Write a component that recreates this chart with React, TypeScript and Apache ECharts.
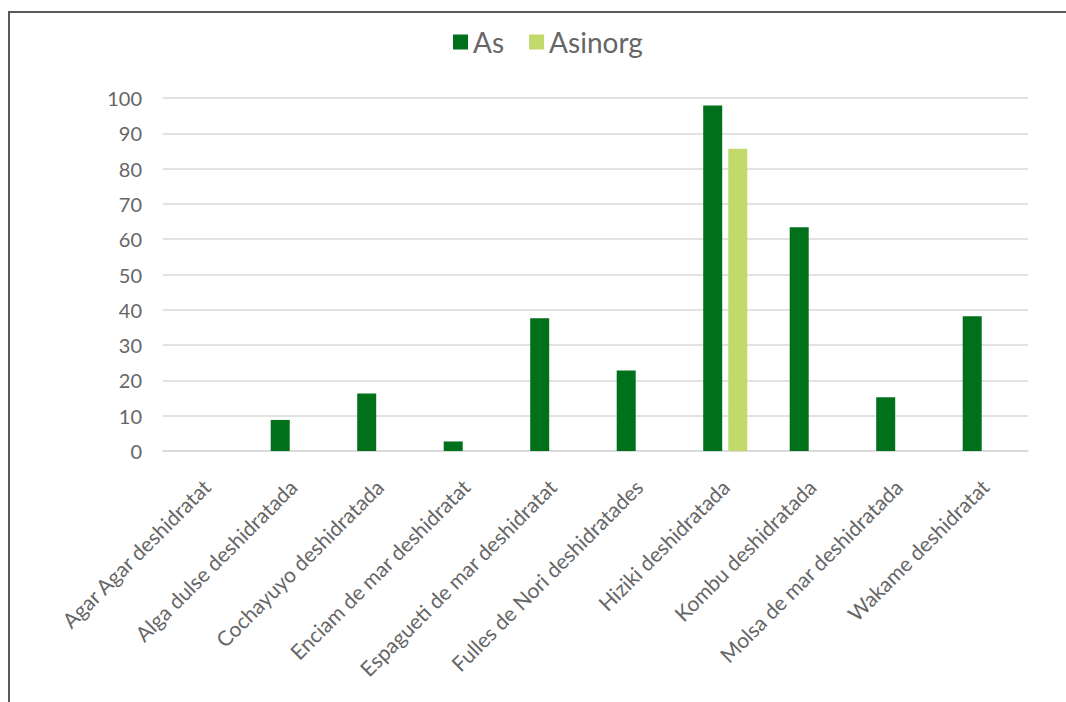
import React, { useEffect, useRef } from "react";
import * as echarts from "echarts";

const categories = [
  "Agar Agar deshidratat",
  "Alga dulse deshidratada",
  "Cochayuyo deshidratada",
  "Enciam de mar deshidratat",
  "Espagueti de mar deshidratat",
  "Fulles de Nori deshidratades",
  "Hiziki deshidratada",
  "Kombu deshidratada",
  "Molsa de mar deshidratada",
  "Wakame deshidratat",
];

const asValues = [0, 8.8, 16.3, 2.7, 37.6, 22.8, 97.9, 63.4, 15.2, 38.2];
const asinorgValues = [0, 0, 0, 0, 0, 0, 85.6, 0, 0, 0];

const seriesNames = ["As", "Asinorg"];
const seriesColors = ["#00701A", "#C2D96B"];

const FONT = "Lato, 'Open Sans', sans-serif";
const TEXT_COLOR = "#666666";

export default function App() {
  const ref = useRef<HTMLDivElement>(null);

  useEffect(() => {
    if (!ref.current) return;
    const chart = echarts.init(ref.current, undefined, { renderer: "svg" });
    chart.setOption({
      animation: false,
      textStyle: { fontFamily: FONT },
      graphic: [
        {
          type: "rect",
          shape: { x: 9, y: 12, width: 1200, height: 900 },
          style: { fill: "none", stroke: "#595959", lineWidth: 2 },
          silent: true,
        },
      ],
      legend: {
        top: 23,
        left: 448,
        itemWidth: 15,
        itemHeight: 15,
        itemGap: 25,
        icon: "rect",
        textStyle: { color: TEXT_COLOR, fontSize: 28, fontFamily: FONT },
        data: seriesNames,
      },
      grid: { left: 163, right: 38, top: 98, bottom: 251, containLabel: false },
      xAxis: {
        type: "category",
        data: categories,
        axisLine: { show: true, lineStyle: { color: "#D9D9D9", width: 1.5 } },
        axisTick: { show: false },
        axisLabel: {
          rotate: 45,
          interval: 0,
          margin: 32,
          color: TEXT_COLOR,
          fontSize: 21,
          fontFamily: FONT,
        },
      },
      yAxis: {
        type: "value",
        min: 0,
        max: 100,
        interval: 10,
        axisLine: { show: false },
        axisTick: { show: false },
        axisLabel: { color: TEXT_COLOR, fontSize: 20, margin: 21, fontFamily: FONT },
        splitLine: { lineStyle: { color: "#D9D9D9", width: 1.5 } },
      },
      series: [
        {
          name: seriesNames[0],
          type: "bar",
          data: asValues,
          barWidth: 19,
          barGap: "32%",
          itemStyle: { color: seriesColors[0] },
        },
        {
          name: seriesNames[1],
          type: "bar",
          data: asinorgValues,
          barWidth: 19,
          barGap: "32%",
          itemStyle: { color: seriesColors[1] },
        },
      ],
    });
    return () => chart.dispose();
  }, []);

  return (
    <div
      ref={ref}
      style={{ position: "absolute", left: 0, top: 0, width: 1066, height: 702 }}
    />
  );
}
